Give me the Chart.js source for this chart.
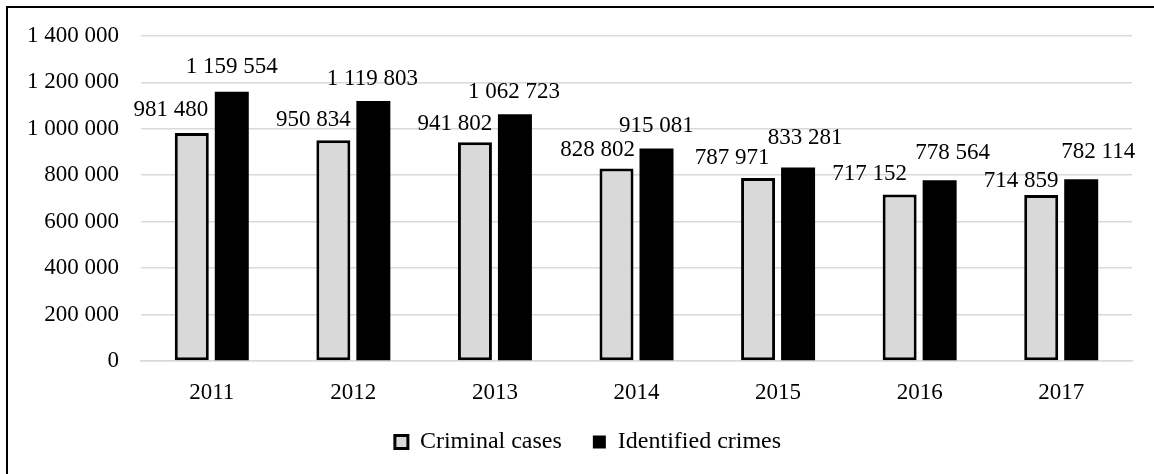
<!DOCTYPE html>
<html>
<head>
<meta charset="utf-8">
<script src="https://cdn.jsdelivr.net/npm/chart.js@4"></script>
<style>
  html, body { margin: 0; padding: 0; background: #fff; }
  #wrap { width: 1154px; height: 474px; }
</style>
</head>
<body>
<div id="wrap"><canvas id="myChart" width="1154" height="474"></canvas></div>
<script>
const years = ['2011', '2012', '2013', '2014', '2015', '2016', '2017'];
const criminalCases = [981480, 950834, 941802, 828802, 787971, 717152, 714859];
const identifiedCrimes = [1159554, 1119803, 1062723, 915081, 833281, 778564, 782114];
const yTicks = [0, 200000, 400000, 600000, 800000, 1000000, 1200000, 1400000];

// label nudges [dx, dy above bar top]
const nudgeCases = [[-21, 23], [-20, 20], [-20, 18], [-19, 19], [-26, 20], [-30, 20], [-20, 14]];
const nudgeCrimes = [[0, 25], [-1, 22], [-1, 22], [0, 22], [7, 29], [13, 27], [17, 27]];

const serif = "'Liberation Serif', 'Times New Roman', serif";

function fmt(v) {
  return String(v).replace(/\B(?=(\d{3})+(?!\d))/g, ' ');
}

const frame = {
  id: 'frame',
  afterLayout(chart) {
    // legend sits a little right of the canvas centre
    chart.legend.left += 22;
    chart.legend.right += 22;
  },
  beforeDraw(chart) {
    const c = chart.ctx;
    c.save();
    c.fillStyle = '#fff';
    c.fillRect(0, 0, chart.width, chart.height);
    c.fillStyle = '#000';
    c.fillRect(6, 6, chart.width - 6, 2);
    c.fillRect(6, 6, 2, chart.height - 6);
    c.restore();
  }
};

const valueLabels = {
  id: 'valueLabels',
  afterDatasetsDraw(chart) {
    const c = chart.ctx;
    c.save();
    c.font = '23px ' + serif;
    c.fillStyle = '#000';
    c.textAlign = 'center';
    c.textBaseline = 'middle';
    chart.data.datasets.forEach((ds, i) => {
      const nudge = i === 0 ? nudgeCases : nudgeCrimes;
      chart.getDatasetMeta(i).data.forEach((bar, j) => {
        c.fillText(fmt(ds.data[j]), bar.x + nudge[j][0], bar.y - nudge[j][1]);
      });
    });
    c.restore();
  }
};

const ctx = document.getElementById('myChart');

new Chart(ctx, {
  type: 'bar',
  data: {
    labels: years,
    datasets: [
      {
        label: 'Criminal cases',
        data: criminalCases,
        backgroundColor: '#d9d9d9',
        borderColor: '#000',
        borderWidth: 3,
        borderSkipped: false
      },
      {
        label: 'Identified crimes',
        data: identifiedCrimes,
        backgroundColor: '#000',
        borderColor: '#000',
        borderWidth: 0
      }
    ]
  },
  options: {
    responsive: false,
    animation: false,
    categoryPercentage: 0.565,
    barPercentage: 0.85,
    layout: {
      padding: { top: 35, left: 0, right: 22, bottom: 10 }
    },
    plugins: {
      legend: {
        position: 'bottom',
        labels: {
          boxWidth: 13,
          boxHeight: 13,
          padding: 31,
          color: '#000',
          font: { family: serif, size: 24 }
        }
      },
      tooltip: { enabled: false }
    },
    scales: {
      x: {
        grid: { display: false, drawTicks: false },
        border: { display: true, color: '#d9d9d9', width: 1.5 },
        ticks: {
          color: '#000',
          padding: 18,
          font: { family: serif, size: 23 }
        },
        afterFit(scale) { scale.height = 38; }
      },
      y: {
        min: 0,
        max: 1400000,
        afterBuildTicks(scale) {
          scale.ticks = yTicks.map(v => ({ value: v }));
        },
        grid: { color: '#d9d9d9', lineWidth: 1.5, drawTicks: false },
        border: { display: false },
        ticks: {
          color: '#000',
          padding: 22,
          font: { family: serif, size: 23 },
          callback: v => fmt(v)
        },
        afterFit(scale) { scale.width = 141; }
      }
    }
  },
  plugins: [frame, valueLabels]
});
</script>
</body>
</html>
